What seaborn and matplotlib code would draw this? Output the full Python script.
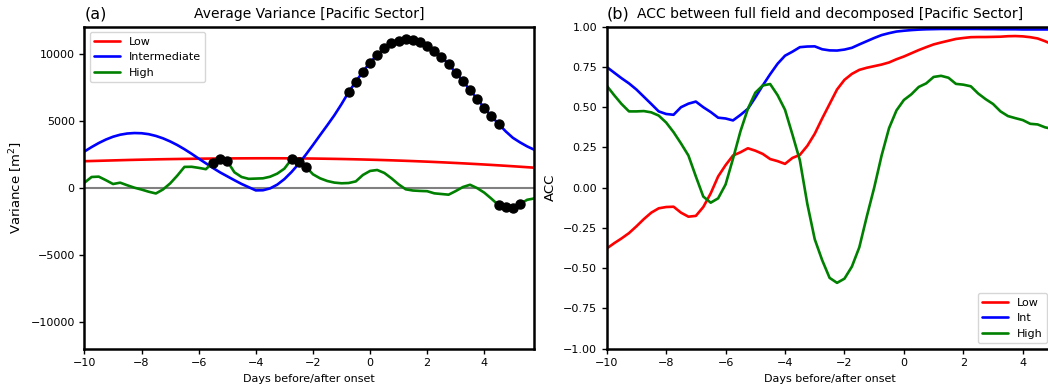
import numpy as np
import pandas as pd
import matplotlib
matplotlib.use("Agg")
import matplotlib.pyplot as plt
from matplotlib.ticker import MultipleLocator
import seaborn as sns

# ---- data: 6-hourly composites around onset (days) ----
var_low = [1975, 1990, 2005, 2020, 2035, 2050, 2065, 2078, 2090, 2102,
           2113, 2123, 2132, 2140, 2148, 2155, 2162, 2168, 2173, 2178,
           2182, 2186, 2189, 2191, 2193, 2194, 2194, 2193, 2191, 2188,
           2184, 2179, 2173, 2166, 2158, 2149, 2139, 2128, 2116, 2103,
           2089, 2074, 2058, 2041, 2023, 2004, 1984, 1963, 1941, 1918,
           1894, 1869, 1843, 1816, 1788, 1759, 1729, 1698, 1666, 1633,
           1599, 1564, 1528, 1492]
var_int = [2700, 3030, 3330, 3590, 3800, 3950, 4040, 4075, 4060, 3990,
           3860, 3680, 3450, 3180, 2870, 2530, 2170, 1820, 1470, 1140,
           850, 560, 280, 40, -200, -190, -50, 230, 640, 1170,
           1780, 2460, 3180, 3920, 4650, 5400, 6230, 7125, 7900, 8650,
           9330, 9900, 10380, 10750, 10950, 11080, 11030, 10880, 10580, 10200,
           9780, 9200, 8580, 7950, 7280, 6630, 5950, 5330, 4750, 4200,
           3720, 3380, 3080, 2830]
var_high = [375, 800, 825, 560, 275, 375, 180, 0, -140, -300,
            -430, -130, 320, 900, 1550, 1560, 1480, 1380, 1875, 2150,
            1975, 1150, 800, 660, 680, 700, 820, 1050, 1420, 2125,
            1900, 1575, 1000, 700, 500, 380, 330, 350, 470, 950,
            1250, 1320, 1100, 700, 250, -120, -210, -240, -260, -420,
            -470, -520, -250, 50, 220, -30, -370, -820, -1300, -1420,
            -1500, -1225, -900, -800]

# days where the variance change is significant
sig_int_days = [-0.75, -0.5, -0.25, 0.0, 0.25, 0.5, 0.75, 1.0, 1.25, 1.5, 1.75,
                2.0, 2.25, 2.5, 2.75, 3.0, 3.25, 3.5, 3.75, 4.0, 4.25, 4.5]
sig_high_days = [-5.5, -5.25, -5.0, -2.75, -2.5, -2.25, 4.5, 4.75, 5.0, 5.25]

acc_low = [-0.378, -0.345, -0.315, -0.282, -0.24, -0.195, -0.155, -0.128, -0.12, -0.118,
           -0.155, -0.18, -0.175, -0.12, -0.035, 0.07, 0.14, 0.2, 0.22, 0.245,
           0.23, 0.21, 0.178, 0.165, 0.148, 0.185, 0.204, 0.26, 0.335, 0.43,
           0.52, 0.61, 0.67, 0.707, 0.732, 0.745, 0.755, 0.765, 0.778, 0.798,
           0.815, 0.835, 0.855, 0.873, 0.89, 0.902, 0.913, 0.924, 0.93, 0.935,
           0.936, 0.936, 0.937, 0.938, 0.941, 0.942, 0.94, 0.935, 0.927, 0.91,
           0.89]
acc_int = [0.75, 0.715, 0.68, 0.648, 0.61, 0.565, 0.52, 0.474, 0.458, 0.453,
           0.5, 0.522, 0.535, 0.5, 0.47, 0.435, 0.43, 0.418, 0.452, 0.49,
           0.56, 0.635, 0.705, 0.77, 0.82, 0.845, 0.873, 0.877, 0.878, 0.86,
           0.853, 0.852, 0.858, 0.869, 0.89, 0.91, 0.93, 0.948, 0.96, 0.97,
           0.975, 0.979, 0.982, 0.984, 0.985, 0.986, 0.986, 0.986, 0.986, 0.986,
           0.986, 0.985, 0.985, 0.984, 0.984, 0.984, 0.983, 0.983, 0.983, 0.983,
           0.983]
acc_high = [0.634, 0.575, 0.52, 0.474, 0.474, 0.476, 0.468, 0.448, 0.405, 0.345,
            0.275, 0.2, 0.07, -0.055, -0.093, -0.066, 0.02, 0.18, 0.35, 0.49,
            0.59, 0.635, 0.644, 0.575, 0.484, 0.33, 0.17, -0.1, -0.32, -0.45,
            -0.56, -0.591, -0.565, -0.49, -0.37, -0.18, 0.0, 0.2, 0.37, 0.48,
            0.545, 0.58, 0.626, 0.648, 0.688, 0.695, 0.683, 0.645, 0.64, 0.63,
            0.585, 0.55, 0.52, 0.474, 0.445, 0.432, 0.42, 0.397, 0.393, 0.375,
            0.365]

var_days = -10 + 0.25 * np.arange(len(var_low))
acc_days = -10 + 0.25 * np.arange(len(acc_low))

var_labels = ["Low", "Intermediate", "High"]
acc_labels = ["Low", "Int", "High"]
colors = ["red", "blue", "green"]

# ---- style ----
sns.set_theme(style="ticks")
plt.rcParams.update({
    "font.family": ["DejaVu Sans"],
    "axes.linewidth": 1.8,
    "axes.edgecolor": "black",
    "xtick.labelsize": 8,
    "ytick.labelsize": 8,
    "axes.labelsize": 8,
    "xtick.major.width": 1.0,
    "ytick.major.width": 1.0,
    "xtick.major.size": 3.5,
    "ytick.major.size": 3.5,
    "xtick.color": "black",
    "ytick.color": "black",
    "axes.labelcolor": "black",
    "text.color": "black",
    "legend.fontsize": 8,
})

fig = plt.figure(figsize=(10.48, 3.85), dpi=100)
ax1 = fig.add_axes([0.0806, 0.0943, 0.4292, 0.8363])
ax2 = fig.add_axes([0.5789, 0.0943, 0.4254, 0.8363])

LW = 1.9

# ---- (a) variance ----
ax1.axhline(0, color="grey", lw=1.5, zorder=1)
var_df = pd.DataFrame({"day": var_days, "Low": var_low,
                       "Intermediate": var_int, "High": var_high})
for lab, col in zip(var_labels, colors):
    sns.lineplot(data=var_df, x="day", y=lab, color=col, lw=LW,
                 label=lab, ax=ax1, zorder=2)

sig_int = var_df.set_index("day").loc[sig_int_days, "Intermediate"]
sig_high = var_df.set_index("day").loc[sig_high_days, "High"]
ax1.plot(sig_int.index, sig_int.values, "o", color="black", ms=6.5, zorder=3)
ax1.plot(sig_high.index, sig_high.values, "o", color="black", ms=6.5, zorder=3)

ax1.set_xlim(-10, 5.75)
ax1.set_ylim(-12000, 12000)
ax1.xaxis.set_major_locator(MultipleLocator(2))
ax1.yaxis.set_major_locator(MultipleLocator(5000))
ax1.set_xlabel("Days before/after onset")
ax1.set_ylabel("Variance [m$^2$]", fontsize=9.5)
ax1.set_title("Average Variance [Pacific Sector]", fontsize=10)
ax1.set_title("(a)", loc="left", fontsize=11.5)
ax1.legend(loc="upper left", frameon=True, handlelength=2.3)

# ---- (b) anomaly correlation ----
acc_df = pd.DataFrame({"day": acc_days, "Low": acc_low,
                       "Int": acc_int, "High": acc_high})
for lab, col in zip(acc_labels, colors):
    sns.lineplot(data=acc_df, x="day", y=lab, color=col, lw=LW,
                 label=lab, ax=ax2)

ax2.set_xlim(-10, 5)
ax2.set_ylim(-1, 1)
ax2.xaxis.set_major_locator(MultipleLocator(2))
ax2.yaxis.set_major_locator(MultipleLocator(0.25))
ax2.set_xlabel("Days before/after onset")
ax2.set_ylabel("ACC", fontsize=9.5)
ax2.set_title("ACC between full field and decomposed [Pacific Sector]", fontsize=10)
ax2.set_title("(b)", loc="left", fontsize=11.5)
ax2.legend(loc="lower right", frameon=True, handlelength=2.3)

fig.savefig("out.png", dpi=100)
